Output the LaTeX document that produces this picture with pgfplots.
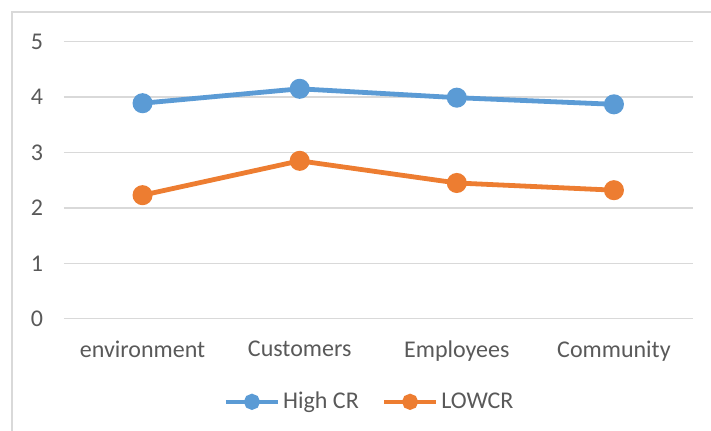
\documentclass[border=0pt]{standalone}
\usepackage{fontspec}
\setmainfont{Carlito}
\usepackage{pgfplots}
\pgfplotsset{compat=1.18}
\definecolor{cblue}{HTML}{5B9BD5}
\definecolor{corange}{HTML}{ED7D31}
\definecolor{cgrid}{HTML}{D9D9D9}
\definecolor{ctext}{HTML}{595959}
\begin{document}
\begin{tikzpicture}
\draw[cgrid, line width=0.75pt] (6pt,-6pt) rectangle (370pt,-230pt);
\begin{axis}[
  at={(32pt,-159.35pt)}, anchor=south west,
  scale only axis, width=314.25pt, height=138.5pt,
  xmin=-0.5, xmax=3.5, ymin=0, ymax=5,
  xtick={0,1,2,3},
  xticklabels={environment,Customers,Employees,Community},
  ytick={0,1,2,3,4,5},
  axis line style={draw=none},
  major tick length=0pt,
  ymajorgrids, grid style={cgrid, line width=0.75pt},
  /pgf/number format/assume math mode=true,
  tick label style={font=\fontsize{12}{14}\selectfont, text=ctext},
  yticklabel style={xshift=-7pt},
  xticklabel style={yshift=-7.5pt},
  legend style={at={(0.487,-0.30)}, anchor=center, draw=none, fill=none,
    font=\fontsize{12}{14}\selectfont, text=ctext, column sep=0pt,
    nodes={inner xsep=1.5pt},
    /tikz/every even column/.append style={column sep=10pt}},
  legend columns=2,
  legend image code/.code={\draw[#1, mark=none, line width=2.25pt] (0pt,0pt) -- (26pt,0pt); \fill[#1] (13pt,0pt) circle (2.8pt);},
  clip=false,
]
\addplot[cblue, line width=2.4pt, mark=*, mark size=3.8pt] coordinates {(0,3.89) (1,4.15) (2,3.99) (3,3.87)};
\addlegendentry{High CR}
\addplot[corange, line width=2.4pt, mark=*, mark size=3.8pt] coordinates {(0,2.23) (1,2.85) (2,2.45) (3,2.32)};
\addlegendentry{LOWCR}
\end{axis}
\pgfresetboundingbox
\useasboundingbox (0pt,0pt) rectangle (355.5pt,-215pt);
\end{tikzpicture}
\end{document}
